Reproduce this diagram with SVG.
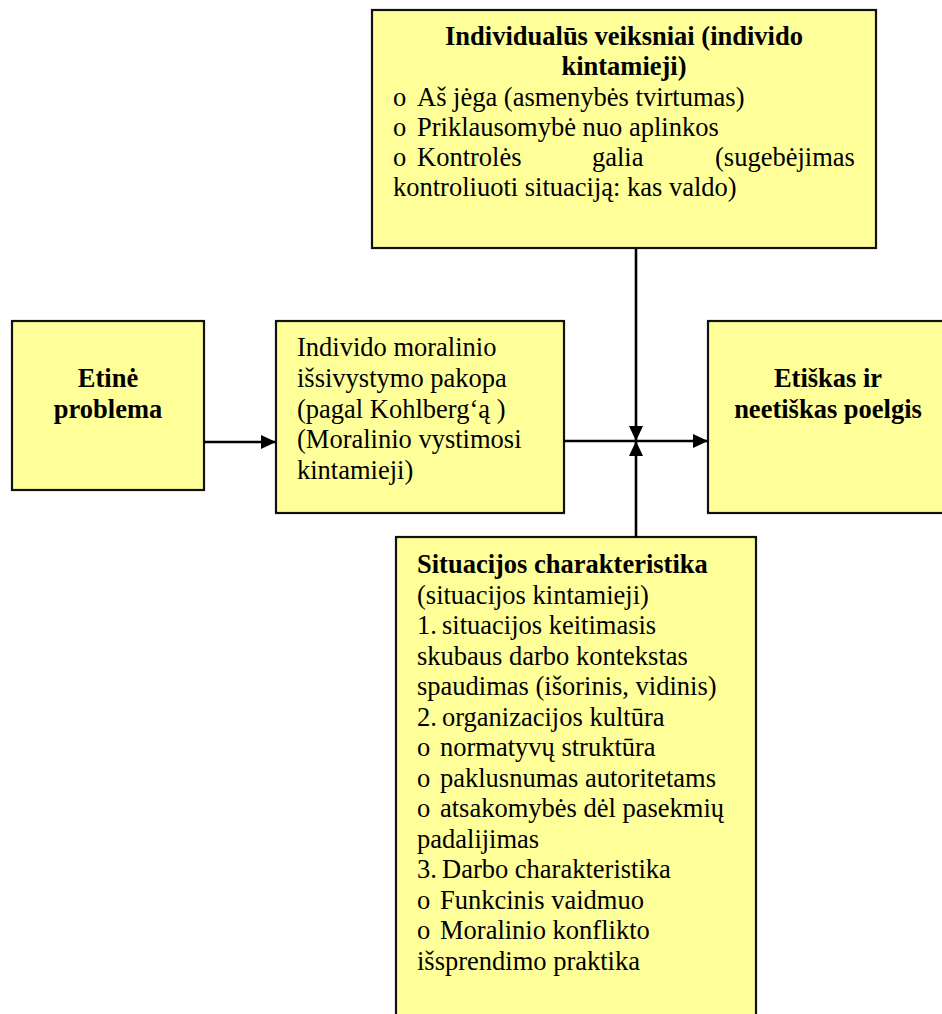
<svg xmlns="http://www.w3.org/2000/svg" width="942" height="1014" viewBox="0 0 942 1014">
<defs>
<style>
.box{fill:#FFFF99;stroke:#111;stroke-width:2.2}
.t{font-family:"Liberation Serif","Times New Roman",serif;font-size:26.5px;fill:#000}
.b{font-weight:bold}
.c{text-anchor:middle}
.ln{stroke:#000;stroke-width:2.6;fill:none}
</style>
<marker id="ah" viewBox="0 0 15 14" refX="15" refY="7" markerWidth="15" markerHeight="14" markerUnits="userSpaceOnUse" orient="auto">
<path d="M0,0 L15,7 L0,14 Z" fill="#000"/>
</marker>
</defs>
<rect width="942" height="1014" fill="#fff"/>

<g id="individualus">
<rect class="box" x="372" y="10" width="504" height="238"/>
<text class="t b c" x="624" y="45">Individualūs veiksniai (individo</text>
<text class="t b c" x="624" y="75">kintamieji)</text>
<text class="t" y="106"><tspan x="393">o</tspan><tspan x="417">Aš jėga (asmenybės  tvirtumas)</tspan></text>
<text class="t" y="136"><tspan x="393">o</tspan><tspan x="417">Priklausomybė nuo aplinkos</tspan></text>
<text class="t" y="166"><tspan x="393">o</tspan><tspan x="417">Kontrolės</tspan><tspan x="592">galia</tspan><tspan x="715">(sugebėjimas</tspan></text>
<text class="t" x="393" y="196">kontroliuoti situaciją: kas valdo)</text>
</g>

<g id="etine">
<rect class="box" x="12" y="321" width="192" height="169"/>
<text class="t b c" x="108" y="387">Etinė</text>
<text class="t b c" x="108" y="418">problema</text>
</g>

<g id="moralinis">
<rect class="box" x="276" y="321" width="288" height="192"/>
<text class="t" x="297" y="356">Individo moralinio</text>
<text class="t" x="297" y="387">išsivystymo pakopa</text>
<text class="t" x="297" y="418">(pagal Kohlberg‘ą )</text>
<text class="t" x="297" y="448">(Moralinio vystimosi</text>
<text class="t" x="297" y="479">kintamieji)</text>
</g>

<g id="poelgis">
<rect class="box" x="708" y="321" width="242" height="192"/>
<text class="t b c" x="828" y="387">Etiškas ir</text>
<text class="t b c" x="828" y="418">neetiškas poelgis</text>
</g>

<g id="situacija">
<rect class="box" x="396" y="537" width="360" height="490"/>
<text class="t b" x="417" y="573">Situacijos charakteristika</text>
<text class="t" x="417" y="603.5">(situacijos kintamieji)</text>
<text class="t" y="634"><tspan x="417">1.</tspan><tspan x="442">situacijos keitimasis</tspan></text>
<text class="t" x="417" y="664.5">skubaus darbo kontekstas</text>
<text class="t" x="417" y="695">spaudimas (išorinis, vidinis)</text>
<text class="t" y="725.5"><tspan x="417">2.</tspan><tspan x="442">organizacijos kultūra</tspan></text>
<text class="t" y="756"><tspan x="417">o</tspan><tspan x="440">normatyvų struktūra</tspan></text>
<text class="t" y="786.5"><tspan x="417">o</tspan><tspan x="440">paklusnumas autoritetams</tspan></text>
<text class="t" y="817"><tspan x="417">o</tspan><tspan x="440">atsakomybės dėl pasekmių</tspan></text>
<text class="t" x="417" y="847.5">padalijimas</text>
<text class="t" y="878"><tspan x="417">3.</tspan><tspan x="442">Darbo charakteristika</tspan></text>
<text class="t" y="908.5"><tspan x="417">o</tspan><tspan x="440">Funkcinis vaidmuo</tspan></text>
<text class="t" y="939"><tspan x="417">o</tspan><tspan x="440">Moralinio konflikto</tspan></text>
<text class="t" x="417" y="969.5">išsprendimo praktika</text>
</g>

<g id="connectors">
<line class="ln" x1="204" y1="442" x2="276" y2="442" marker-end="url(#ah)"/>
<line class="ln" x1="564" y1="441" x2="708" y2="441" marker-end="url(#ah)"/>
<line class="ln" x1="636" y1="249" x2="636" y2="441" marker-end="url(#ah)"/>
<line class="ln" x1="636" y1="537" x2="636" y2="441" marker-end="url(#ah)"/>
</g>
</svg>
